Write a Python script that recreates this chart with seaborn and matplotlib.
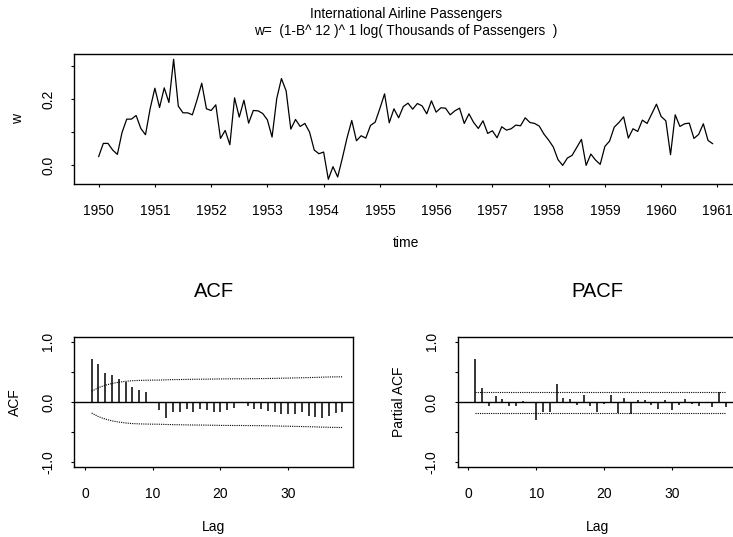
import numpy as np
import matplotlib
matplotlib.use("Agg")
import matplotlib.pyplot as plt
import seaborn as sns

# seasonal difference of log passengers, Jan 1950 .. Dec 1960
w = [
    0.026, 0.066, 0.066, 0.046, 0.033, 0.099, 0.139, 0.139, 0.150, 0.111, 0.092, 0.171,
    0.232, 0.174, 0.233, 0.189, 0.319, 0.178, 0.158, 0.158, 0.152, 0.197, 0.247, 0.170,
    0.165, 0.182, 0.081, 0.105, 0.062, 0.203, 0.145, 0.196, 0.127, 0.165, 0.164, 0.156,
    0.137, 0.085, 0.201, 0.261, 0.224, 0.109, 0.138, 0.117, 0.126, 0.100, 0.046, 0.035,
    0.040, -0.042, -0.004, -0.035, 0.022, 0.083, 0.135, 0.074, 0.089, 0.082, 0.120, 0.130,
    0.171, 0.215, 0.128, 0.170, 0.143, 0.177, 0.187, 0.169, 0.186, 0.179, 0.155, 0.194,
    0.160, 0.173, 0.172, 0.152, 0.164, 0.172, 0.126, 0.155, 0.129, 0.111, 0.134, 0.096,
    0.104, 0.083, 0.116, 0.106, 0.110, 0.121, 0.119, 0.143, 0.129, 0.126, 0.118, 0.094,
    0.076, 0.055, 0.017, 0.000, 0.022, 0.030, 0.054, 0.078, 0.000, 0.034, 0.016, 0.003,
    0.057, 0.073, 0.115, 0.129, 0.146, 0.082, 0.110, 0.102, 0.136, 0.126, 0.155, 0.184,
    0.147, 0.134, 0.032, 0.152, 0.117, 0.125, 0.127, 0.081, 0.093, 0.125, 0.075, 0.065,
]
start_year = 1950
years = start_year + np.arange(len(w)) / 12

acf = [0.72, 0.63, 0.49, 0.45, 0.39, 0.33, 0.25, 0.20, 0.16, -0.01,
       -0.13, -0.26, -0.155, -0.155, -0.12, -0.155, -0.12, -0.13, -0.155, -0.17,
       -0.13, -0.095, -0.01, -0.065, -0.12, -0.11, -0.14, -0.165, -0.20, -0.20,
       -0.195, -0.16, -0.23, -0.24, -0.27, -0.23, -0.185, -0.17]
acf_band = [0.18, 0.24, 0.28, 0.31, 0.33, 0.345, 0.355, 0.36, 0.363, 0.365,
            0.366, 0.37, 0.373, 0.375, 0.377, 0.379, 0.38, 0.381, 0.383, 0.385,
            0.386, 0.387, 0.387, 0.388, 0.389, 0.39, 0.392, 0.394, 0.397, 0.399,
            0.402, 0.404, 0.407, 0.41, 0.414, 0.417, 0.419, 0.42]
pacf = [0.71, 0.23, -0.06, 0.105, 0.055, -0.065, -0.065, 0.02, -0.01, -0.30,
        -0.16, -0.155, 0.295, 0.07, 0.055, -0.05, 0.125, -0.07, -0.16, -0.03,
        0.125, -0.185, 0.065, -0.20, 0.035, 0.035, -0.045, -0.115, 0.04, -0.125,
        -0.05, 0.05, -0.035, -0.07, -0.02, -0.08, 0.17, -0.075]
pacf_band = 0.174
lags = np.arange(1, len(acf) + 1)

sns.set_style("ticks")
plt.rcParams["font.family"] = ["Liberation Sans", "DejaVu Sans"]
plt.rcParams["text.color"] = "black"
plt.rcParams["axes.labelcolor"] = "black"
plt.rcParams["xtick.direction"] = "out"
plt.rcParams["ytick.direction"] = "out"

fig = plt.figure(figsize=(7.33, 5.37), dpi=100)


def style_axes(ax, yticks, ylabels, xticks):
    for s in ax.spines.values():
        s.set_visible(True)
        s.set_linewidth(1.0)
        s.set_color("black")
    ax.set_yticks(yticks)
    ax.set_yticklabels(ylabels, rotation=90, va="center")
    ax.set_xticks(xticks)
    ax.tick_params(axis="both", length=2.5, width=0.8, color="black",
                   labelsize=10, labelcolor="black")
    ax.tick_params(axis="y", pad=11)
    ax.tick_params(axis="x", pad=12)


# top: the differenced series
ax = fig.add_axes([0.1010, 0.6574, 0.9048, 0.2415])
sns.lineplot(x=years, y=w, ax=ax, color="black", lw=0.9)
ax.set_xlim(1949.563, 1961.353)
ax.set_ylim(-0.056, 0.334)
style_axes(ax, [0.0, 0.1, 0.2, 0.3], ["0.0", "", "0.2", ""], range(1950, 1962))
ax.set_xticklabels([str(y) for y in range(1950, 1962)])
ax.set_xlabel("time", fontsize=10)
ax.xaxis.set_label_coords(0.5, -0.455)
ax.xaxis.label.set_va("center")
ax.set_ylabel("w", fontsize=10)
ax.yaxis.set_label_coords(-0.0844, 0.5)
ax.yaxis.label.set_va("center")
ax.set_title("International Airline Passengers\n"
             "w=  (1-B^ 12 )^ 1 log( Thousands of Passengers  )",
             fontsize=9.8, y=1.2425, va="center", pad=0, linespacing=1.3)

# bottom: ACF and PACF
panels = [
    (0.1010, "ACF", "ACF", acf, acf_band),
    (0.6243, "PACF", "Partial ACF", pacf, None),
]
for left, title, ylab, vals, band in panels:
    ax = fig.add_axes([left, 0.1309, 0.3810, 0.2410])
    ax.set_xlim(-1.6, 39.6)
    ax.set_ylim(-1.07, 1.075)
    ax.axhline(0, color="black", lw=1.0)
    ax.vlines(lags, 0, vals, color="black", lw=1.1)
    if band is not None:
        sns.lineplot(x=lags, y=band, ax=ax, color="black", lw=0.8, linestyle=(0, (1, 1)))
        sns.lineplot(x=lags, y=-np.array(band), ax=ax, color="black", lw=0.8,
                     linestyle=(0, (1, 1)))
    else:
        ax.hlines([pacf_band, -pacf_band], lags[0], lags[-1], color="black", lw=0.8,
                  linestyle=(0, (1, 1)))
    style_axes(ax, [-1, -0.5, 0, 0.5, 1], ["-1.0", "", "0.0", "", "1.0"], [0, 10, 20, 30])
    ax.set_xlabel("Lag", fontsize=10)
    ax.xaxis.set_label_coords(0.5, -0.464)
    ax.xaxis.label.set_va("center")
    ax.set_ylabel(ylab, fontsize=10)
    ax.yaxis.set_label_coords(-0.211, 0.5)
    ax.yaxis.label.set_va("center")
    ax.set_title(title, fontsize=14.5, y=1.352, va="center", pad=0)

fig.savefig("out.png", dpi=100)
